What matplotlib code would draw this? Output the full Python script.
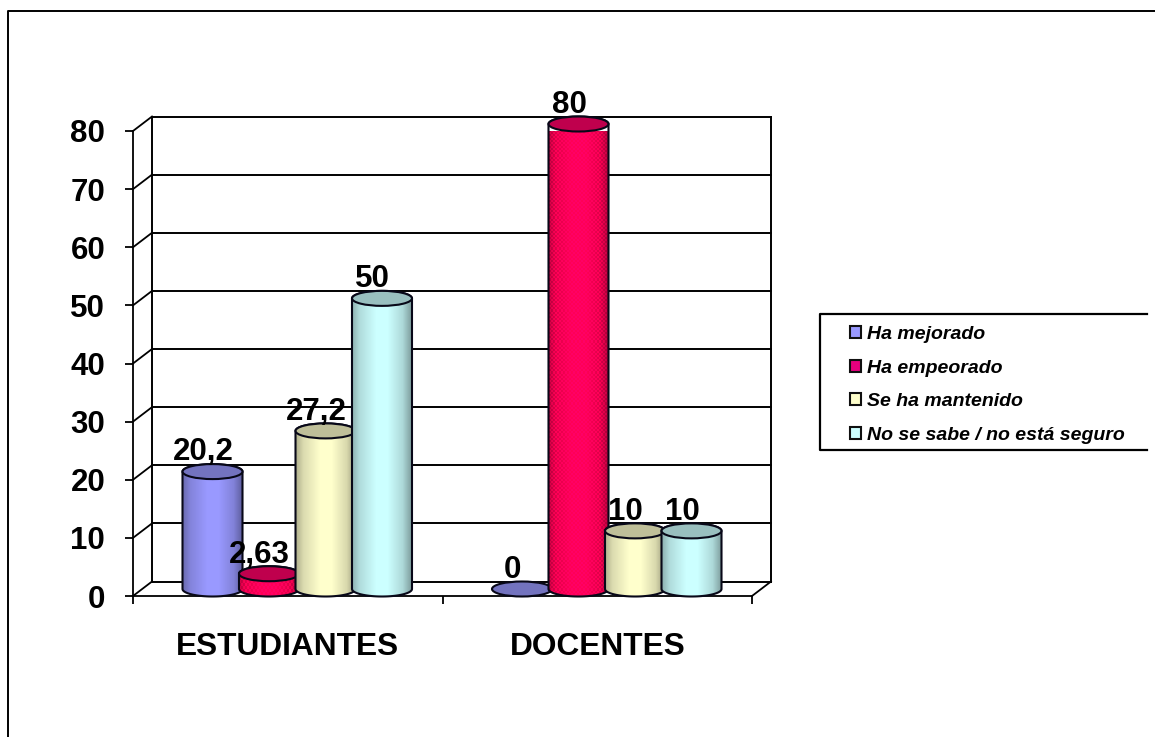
import numpy as np
import matplotlib
matplotlib.use("Agg")
import matplotlib.pyplot as plt
from matplotlib.lines import Line2D
from matplotlib.patches import Ellipse, Patch, PathPatch
from matplotlib.path import Path
from matplotlib.transforms import ScaledTranslation

categories = ["ESTUDIANTES", "DOCENTES"]
series_names = ["Ha mejorado", "Ha empeorado", "Se ha mantenido", "No se sabe / no está seguro"]
ha_mejorado = [20.2, 0]
ha_empeorado = [2.63, 80]
se_ha_mantenido = [27.2, 10]
no_se_sabe = [50, 10]
value_labels = [["20,2", "0"], ["2,63", "80"], ["27,2", "10"], ["50", "10"]]
y_ticks = [0, 10, 20, 30, 40, 50, 60, 70, 80]
all_series = [ha_mejorado, ha_empeorado, se_ha_mantenido, no_se_sabe]
colors = ["#9999FF", "#FF0066", "#FFFFCC", "#CCFFFF"]
legend_colors = ["#9999FF", "#E6007E", "#FFFFCC", "#CCFFFF"]

W, H = 1155, 737
DPI = 100
FONT = "Liberation Sans"
L, R, T, B = 133, 752, 131, 596

fig = plt.figure(figsize=(W / DPI, H / DPI), dpi=DPI, facecolor="white")
ax = fig.add_axes([L / W, 1 - B / H, (R - L) / W, (B - T) / H])
ax.set_xlim(0, 2)
ax.set_ylim(0, 80)
ax.patch.set_visible(False)
for s in ("top", "right"):
    ax.spines[s].set_visible(False)
for s in ("left", "bottom"):
    ax.spines[s].set_linewidth(1.3)
ax.set_yticks(y_ticks)
ax.set_xticks([0, 1, 2])
ax.set_xticklabels([])
ax.tick_params(axis="both", length=6, width=1.3, color="black")
ax.tick_params(axis="y", pad=14)
for lab in ax.get_yticklabels():
    lab.set_fontname(FONT)
    lab.set_fontweight("bold")
    lab.set_fontsize(22.5)

px_x = 2 / (R - L)
px_y = 80 / (B - T)
depth = ScaledTranslation(19 / DPI, 14.5 / DPI, fig.dpi_scale_trans)
wall = ax.transData + depth
wk = dict(color="black", lw=1.4, clip_on=False, solid_capstyle="projecting", zorder=1)

# back wall, floor and side wall
for v in y_ticks[1:]:
    ax.plot([0, 2], [v, v], transform=wall, **wk)
ax.plot([0, 0], [0, 80], transform=wall, **wk)
ax.plot([2, 2], [0, 80], transform=wall, **wk)
ax.plot([0, 2], [0, 0], transform=wall, **wk)
for v in y_ticks:
    p0 = ax.transData.transform((0, v))
    p1 = wall.transform((0, v))
    fig.add_artist(Line2D([p0[0] / W, p1[0] / W], [p0[1] / H, p1[1] / H], color="black", lw=1.3, zorder=1))
p0 = ax.transData.transform((2, 0))
p1 = wall.transform((2, 0))
fig.add_artist(Line2D([p0[0] / W, p1[0] / W], [p0[1] / H, p1[1] / H], color="black", lw=1.3, zorder=1))

# cylinders
bar_w = 60 * px_x
pitch = 56.5 * px_x
ell_h = 15 * px_y
mid = ScaledTranslation(9.5 / DPI, 7 / DPI, fig.dpi_scale_trans)
mid_t = ax.transData + mid
shade_x = [0, 0.12, 0.4, 0.6, 0.85, 1]
shade_v = [0.70, 0.86, 1.0, 1.0, 0.85, 0.62]
EDGE = "#080818"


def cylinder(xc, value, color, z, textured):
    rgb = np.array(matplotlib.colors.to_rgb(color))
    x0, x1 = xc - bar_w / 2, xc + bar_w / 2
    if value > 0:
        t = np.linspace(0, np.pi, 40)
        xs = np.r_[xc + bar_w / 2 * np.cos(t), xc - bar_w / 2 * np.cos(t)]
        ys = np.r_[value + ell_h / 2 * np.sin(t), -ell_h / 2 * np.sin(t)]
        verts = np.column_stack([xs, ys])
        path = Path(np.vstack([verts, verts[0]]), closed=True)
        nx = 60
        ny = max(int((value + ell_h) / px_y), 4)
        sh = np.interp(np.linspace(0, 1, nx), shade_x, shade_v)
        img = np.ones((ny, nx, 3)) * rgb * sh[None, :, None]
        if textured:
            yy, xx = np.mgrid[0:ny, 0:nx]
            check = (xx // 2 + yy // 2) % 2 == 0
            img = img * np.where(check, 0.85, 1.0)[:, :, None]
            img[:, :, 0] = np.clip(img[:, :, 0] * 1.2, 0, 1)
        im = ax.imshow(img.clip(0, 1), extent=(x0, x1, -ell_h, value + ell_h), aspect="auto",
                       transform=mid_t, zorder=z, interpolation="nearest")
        patch = PathPatch(path, transform=mid_t, facecolor="none", edgecolor=EDGE, lw=1.5,
                          zorder=z + 0.2, clip_on=False)
        ax.add_patch(patch)
        im.set_clip_path(patch)
    top = Ellipse((xc, value), bar_w, ell_h, transform=mid_t, facecolor=rgb * 0.75,
                  edgecolor=EDGE, lw=1.5, zorder=z + 0.3, clip_on=False)
    ax.add_patch(top)


n = len(all_series)
for j, vals in enumerate(all_series):
    for i, v in enumerate(vals):
        xc = i + 0.5 + (j - (n - 1) / 2) * pitch
        cylinder(xc, v, colors[j], 3 + j, j == 1)
        ax.annotate(value_labels[j][i], (xc, v), xytext=(0, 18.8), textcoords="offset points",
                    ha="center", va="center", fontname=FONT, fontweight="bold", fontsize=22.5,
                    color="black", zorder=20, annotation_clip=False)

ax.set_xlim(0, 2)
ax.set_ylim(0, 80)

# category labels
for i, c in enumerate(categories):
    ax.annotate(c, (i + 0.5, 0), xytext=(0, -36.5), textcoords="offset points", ha="center", va="center",
                fontname=FONT, fontweight="bold", fontsize=22.8, annotation_clip=False)

# legend
handles = [Patch(facecolor=c, edgecolor="#101010", lw=1.5) for c in legend_colors]
leg = fig.legend(handles, series_names, loc="upper left", bbox_to_anchor=(850 / W, 1 - 326 / H),
                 borderaxespad=0, borderpad=0, frameon=False, handlelength=0.57, handleheight=0.57,
                 handletextpad=0.31, labelspacing=0.85,
                 prop=dict(family=FONT, weight="bold", style="italic", size=14))


# outer frame and legend frame
def fig_line(xs, ys, lw):
    fig.add_artist(Line2D([x / W for x in xs], [1 - y / H for y in ys], color="black", lw=lw))


fig_line([7.5, 7.5, W], [H, 10.5, 10.5], 1.4)
fig_line([1147, 819.5, 819.5, 1147], [313.5, 313.5, 449.5, 449.5], 1.6)

fig.savefig("out.png", dpi=DPI)
